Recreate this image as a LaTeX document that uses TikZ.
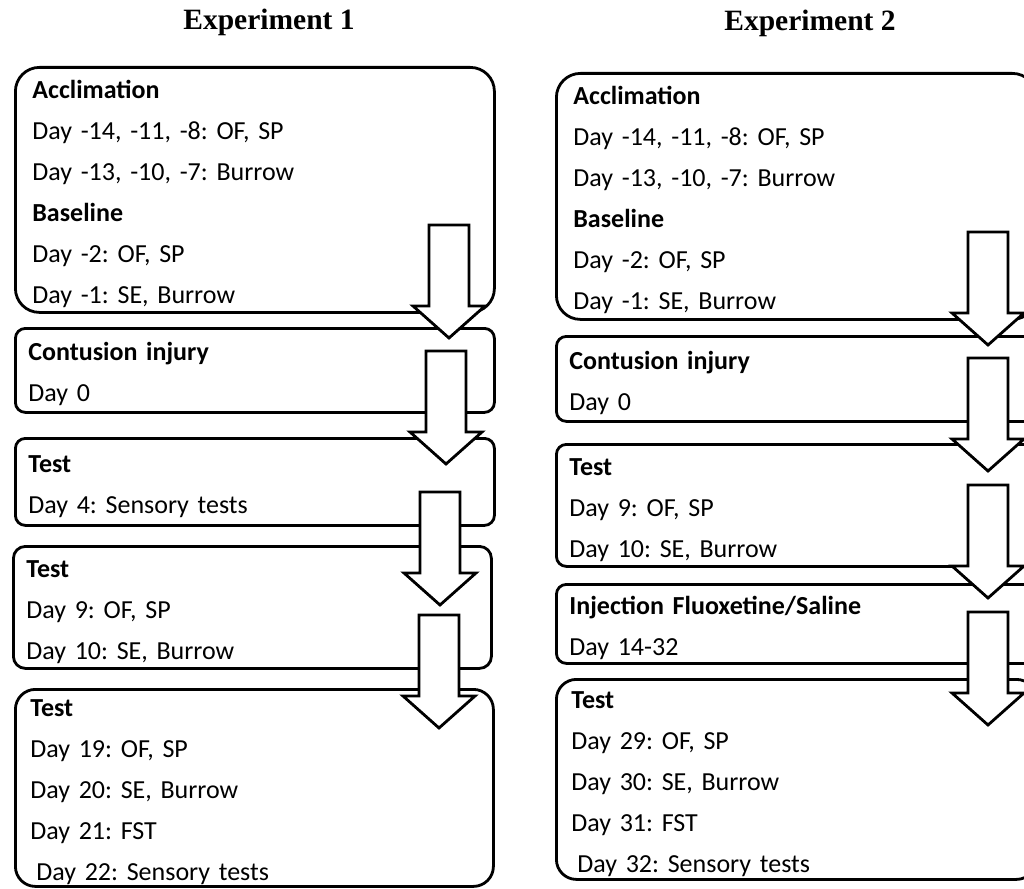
\documentclass[tikz,border=0pt]{standalone}
\usepackage{fontspec}
\setmainfont{Carlito}[WordSpace=0.8]
\newfontfamily\headfont{Liberation Serif}
\usepackage{tikz}
\frenchspacing

\tikzset{
  stagebox/.style={draw, line width=2.8pt, fill=white, anchor=north west, align=left,
    inner xsep=13pt, inner ysep=0pt, font=\fontsize{26}{41}\selectfont,
    execute at begin node={\rule{0pt}{26pt}}},
  headline/.style={font=\headfont\bfseries\fontsize{29.5}{31}\selectfont},
  arrowshape/.style={draw, line width=2.8pt, fill=white, line join=miter},
  pics/downarrow/.style={code={
    \path[arrowshape] (-20,0) -- (20,0) -- (20,81) -- (36,81) -- (0,113)
      -- (-36,81) -- (-20,81) -- cycle;
  }}
}

\begin{document}
\begin{tikzpicture}[x=1pt, y=-1pt]
  \useasboundingbox (0,0) rectangle (1024,888);
  \clip (0,0) rectangle (1024,888);

  % ---- column titles ----
  \node[headline] (head1) at (269,22) {Experiment 1};
  \node[headline] (head2) at (810,23) {Experiment 2};

  % ---- experiment 1: stages ----
  \node[stagebox, rounded corners=24pt, inner xsep=17pt, text width=445pt, minimum height=245pt]
    (e1acc) at (14,66) {\textbf{Acclimation}\\Day -14, -11, -8: OF, SP\\Day -13, -10, -7: Burrow\\
      \textbf{Baseline}\\Day -2: OF, SP\\Day -1: SE, Burrow};
  \node[stagebox, rounded corners=10pt, text width=453pt, minimum height=84pt]
    (e1inj) at (14,327) {\textbf{Contusion injury}\\Day 0};
  \node[stagebox, rounded corners=10pt, text width=453pt, minimum height=87pt]
    (e1sens) at (14,437) {\textbf{Test}\\Day 4: Sensory tests};
  \node[stagebox, rounded corners=12pt, text width=452pt, minimum height=122pt]
    (e1test) at (12,545) {\textbf{Test}\\Day 9: OF, SP\\Day 10: SE, Burrow};
  \node[stagebox, rounded corners=20pt, inner xsep=15pt, text width=448pt, minimum height=197pt]
    (e1final) at (14,688) {\textbf{Test}\\Day 19: OF, SP\\Day 20: SE, Burrow\\Day 21: FST\\
      \hspace*{6pt}Day 22: Sensory tests};

  % ---- experiment 2: stages ----
  \node[stagebox, rounded corners=24pt, inner xsep=17pt, text width=446pt, minimum height=246pt]
    (e2acc) at (555,72) {\textbf{Acclimation}\\Day -14, -11, -8: OF, SP\\Day -13, -10, -7: Burrow\\
      \textbf{Baseline}\\Day -2: OF, SP\\Day -1: SE, Burrow};
  \node[stagebox, rounded corners=10pt, text width=454pt, minimum height=85pt]
    (e2inj) at (555,335) {\textbf{Contusion injury}\\Day 0};
  \node[stagebox, rounded corners=10pt, text width=454pt, minimum height=122pt]
    (e2test) at (555,443) {\textbf{Test}\\Day 9: OF, SP\\Day 10: SE, Burrow};
  \node[stagebox, rounded corners=10pt, text width=454pt, minimum height=79pt]
    (e2drug) at (555,583) {\textbf{Injection Fluoxetine/Saline}\\Day 14-32};
  \node[stagebox, rounded corners=20pt, inner xsep=15pt, text width=450pt, minimum height=200pt]
    (e2final) at (555,678) {\textbf{Test}\\Day 29: OF, SP\\Day 30: SE, Burrow\\Day 31: FST\\
      \hspace*{6pt}Day 32: Sensory tests};

  % ---- block arrows (drawn over the boxes) ----
  \foreach \x/\y in {449/225, 446/351, 440/492, 439/615, 988/232, 988/358, 988/485, 988/612} {
    \pic at (\x,\y) {downarrow};
  }
\end{tikzpicture}
\end{document}
